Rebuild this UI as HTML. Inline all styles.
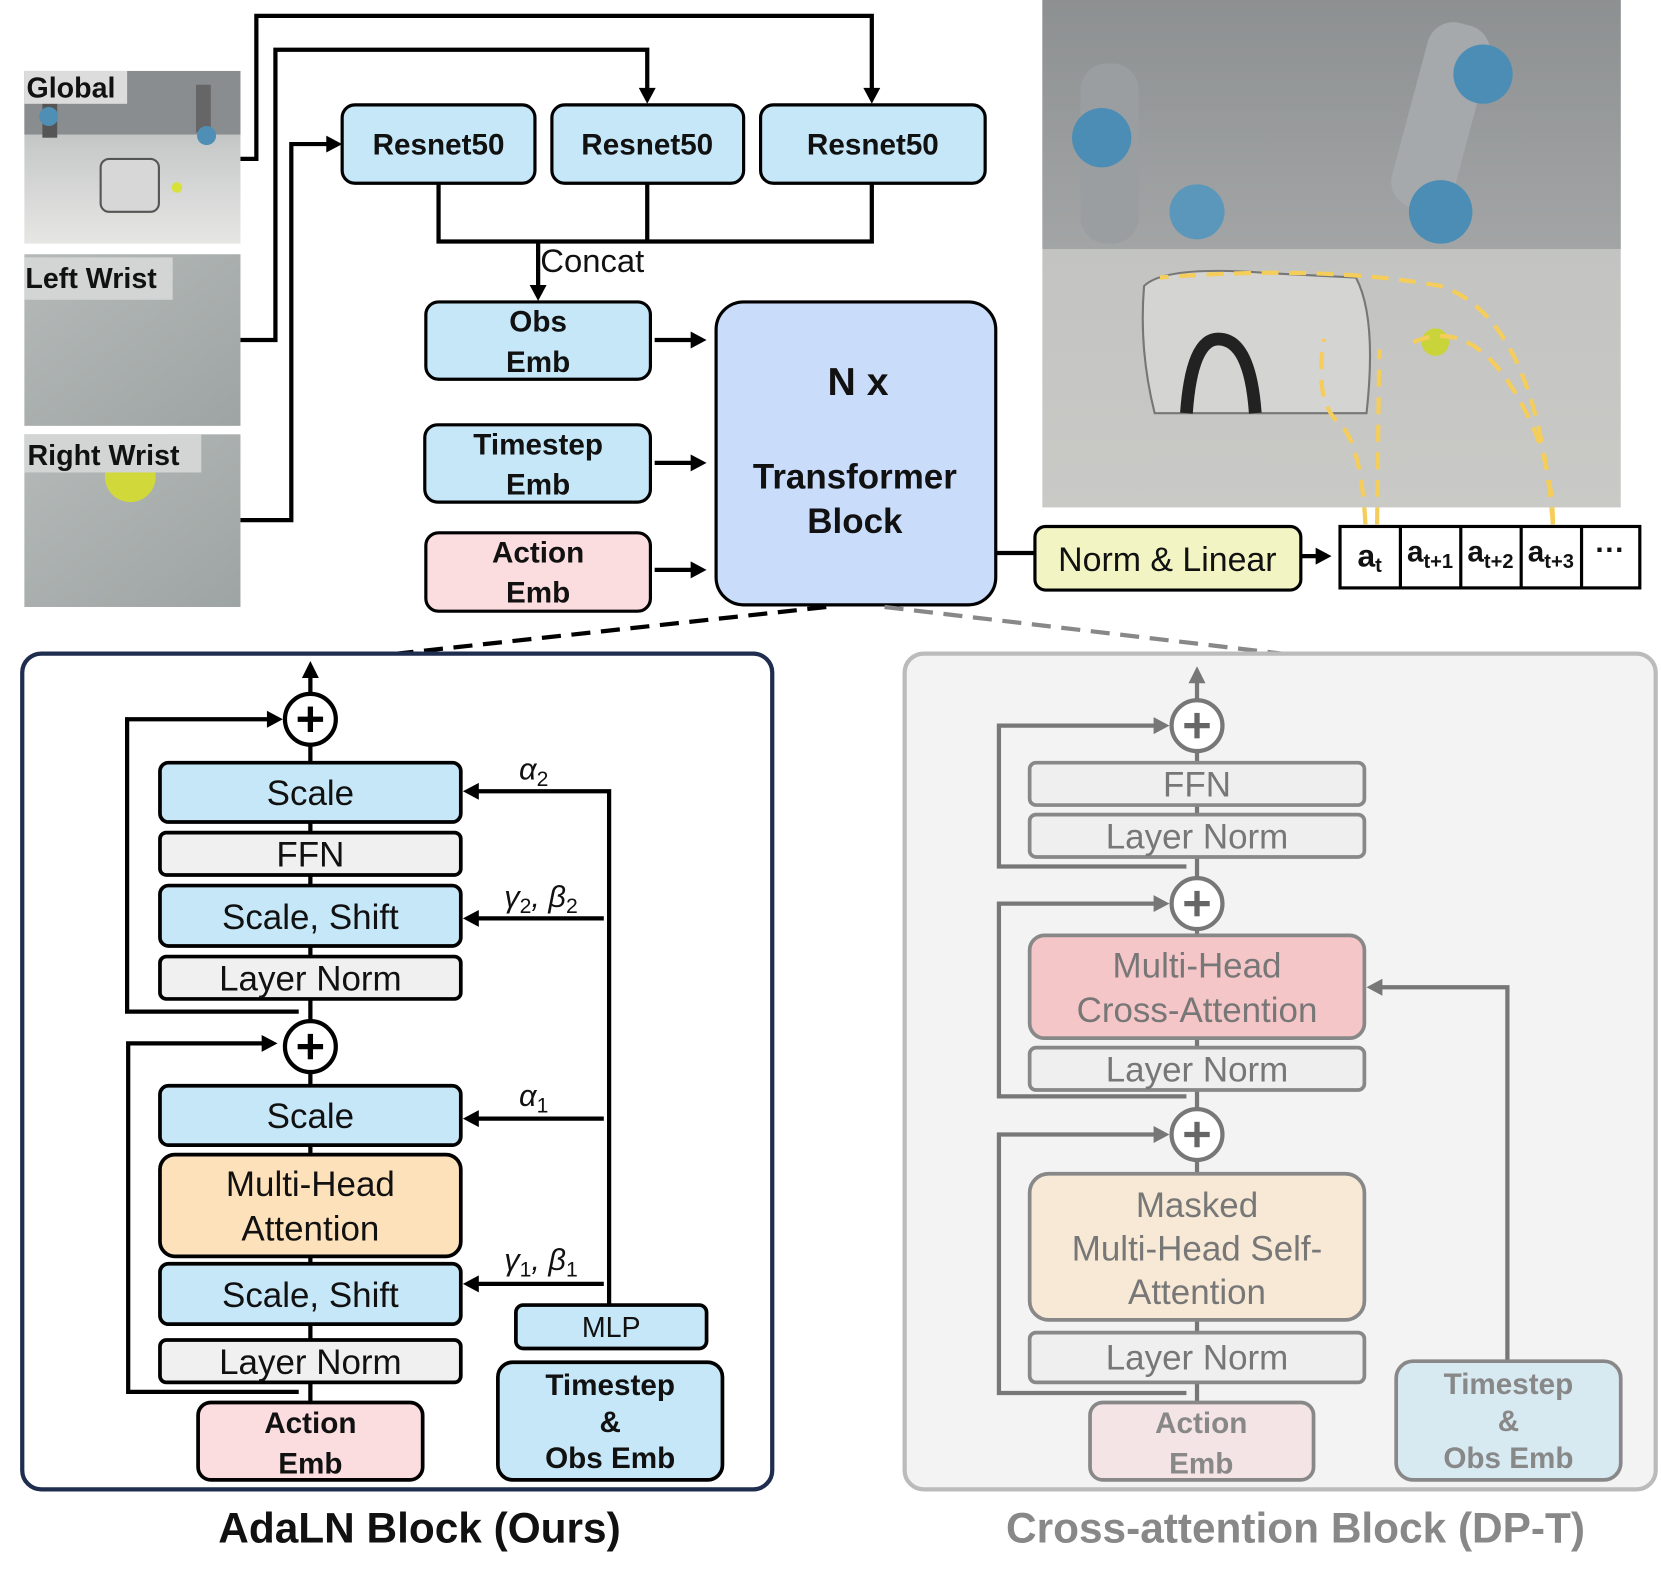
<!DOCTYPE html>
<html><head><meta charset="utf-8">
<style>
html,body{margin:0;padding:0;background:#fff;}
svg{display:block;}
text{font-family:"Liberation Sans",Arial,sans-serif;}
</style></head>
<body>
<svg width="1661" height="1579" viewBox="0 0 1568 1490.6" xmlns="http://www.w3.org/2000/svg">
<defs>
<linearGradient id="g1" x1="0" y1="0" x2="0" y2="1"><stop offset="0" stop-color="#a9abac"/><stop offset="0.45" stop-color="#c9cbcb"/><stop offset="1" stop-color="#e6e6e4"/></linearGradient>
<linearGradient id="g2" x1="0" y1="0" x2="1" y2="1"><stop offset="0" stop-color="#b5bab9"/><stop offset="1" stop-color="#9ea4a3"/></linearGradient>
<linearGradient id="g3" x1="0" y1="0" x2="0" y2="1"><stop offset="0" stop-color="#8d8f90"/><stop offset="0.5" stop-color="#c3c4c2"/><stop offset="1" stop-color="#c9c9c6"/></linearGradient>
</defs>

<!-- photos -->
<rect x="23" y="67" width="204" height="163" fill="url(#g1)"/>
<rect x="23" y="67" width="204" height="60" fill="#8a8d8f"/>
<rect x="95" y="150" width="55" height="50" rx="8" fill="#d7d7d7" stroke="#555" stroke-width="2"/>
<circle cx="167" cy="177" r="5" fill="#d6e23a"/>
<rect x="40" y="90" width="14" height="40" fill="#555"/><rect x="185" y="80" width="14" height="45" fill="#666"/>
<circle cx="46" cy="110" r="9" fill="#4f8fb5"/><circle cx="195" cy="128" r="9" fill="#4f8fb5"/>
<rect x="23" y="67" width="97" height="31" fill="#dcdcdc"/>
<text x="25" y="92" font-size="27" font-weight="bold" fill="#111">Global</text>
<rect x="23" y="240" width="204" height="162" fill="url(#g2)"/>
<rect x="23" y="243" width="140" height="40" fill="#d3d5d5"/>
<text x="24" y="272" font-size="27" font-weight="bold" fill="#111">Left Wrist</text>
<rect x="23" y="410" width="204" height="163" fill="url(#g2)"/>
<circle cx="123" cy="450" r="24" fill="#d1d83a"/>
<rect x="23" y="410" width="167" height="36" fill="#d3d5d5"/>
<text x="26" y="439" font-size="27" font-weight="bold" fill="#111">Right Wrist</text>

<rect x="984" y="0" width="546" height="479" fill="url(#g3)"/>
<rect x="984" y="0" width="546" height="235" fill="#8e9192" opacity="0.6"/>
<path d="M1080,270 Q1100,250 1200,258 L1280,262 Q1300,300 1290,390 L1090,390 Q1075,330 1080,270Z" fill="#d4d4d2" stroke="#777" stroke-width="2"/>
<path d="M1120,390 Q1125,320 1150,320 Q1180,320 1185,390" fill="none" stroke="#222" stroke-width="12"/>
<circle cx="1355" cy="323" r="13" fill="#c9d43a"/>
<rect x="1330" y="20" width="60" height="180" rx="25" fill="#a5a9ab" transform="rotate(15 1360 110)"/>
<rect x="1020" y="60" width="55" height="170" rx="25" fill="#9a9ea0"/>
<circle cx="1360" cy="200" r="30" fill="#4c8db5"/><circle cx="1040" cy="130" r="28" fill="#4c8db5"/><circle cx="1400" cy="70" r="28" fill="#4c8db5"/><circle cx="1130" cy="200" r="26" fill="#5b96bb"/>
<g fill="none" stroke="#f5cd5a" stroke-width="4" stroke-dasharray="16,10">
<path d="M1289,495 Q1285,420 1265,400 Q1240,380 1250,320"/>
<path d="M1300,495 L1302,330"/>
<path d="M1466,495 Q1466,420 1420,355 Q1380,300 1330,325"/>
<path d="M1466,495 Q1450,300 1360,270 Q1250,250 1095,262"/>
</g>

<!-- top connectors -->
<g fill="none" stroke="#000" stroke-width="4">
<polyline points="227,150 242,150 242,15 823,15 823,86"/>
<polyline points="227,321 260,321 260,47 611,47 611,86"/>
<polyline points="227,491 275,491 275,136 310,136"/>
<polyline points="414,173 414,228 823,228 823,173"/>
<line x1="611" y1="173" x2="611" y2="228"/>
<line x1="508" y1="228" x2="508" y2="272"/>
<line x1="618" y1="321" x2="655" y2="321"/>
<line x1="618" y1="437" x2="655" y2="437"/>
<line x1="618" y1="538" x2="655" y2="538"/>
<line x1="940" y1="522" x2="977" y2="522"/>
<line x1="1228" y1="525" x2="1245" y2="525"/>
</g>
<g fill="#000">
<path d="M815,83 L831,83 L823,98Z"/><path d="M603,83 L619,83 L611,98Z"/>
<path d="M308,128 L308,144 L323,136Z"/><path d="M500,269 L516,269 L508,284Z"/>
<path d="M652,313 L652,329 L667,321Z"/><path d="M652,429 L652,445 L667,437Z"/><path d="M652,530 L652,546 L667,538Z"/>
<path d="M1242,517 L1242,533 L1257,525Z"/>
</g>
<g stroke="#000" stroke-width="3" fill="#c5e7f7">
<rect x="323" y="99" width="182" height="74" rx="12"/>
<rect x="521" y="99" width="181" height="74" rx="12"/>
<rect x="718" y="99" width="212" height="74" rx="12"/>
<rect x="402" y="285" width="212" height="73" rx="12"/>
<rect x="401" y="401" width="213" height="73" rx="12"/>
<rect x="402" y="503" width="212" height="74" rx="12" fill="#fbdde0"/>
<rect x="676" y="285" width="264" height="286" rx="26" fill="#c9dcfa"/>
<rect x="977" y="497" width="251" height="60" rx="10" fill="#f2f5c3"/>
<rect x="1265" y="497" width="283" height="58" fill="#fff"/>
<line x1="1322" y1="497" x2="1322" y2="555"/><line x1="1379" y1="497" x2="1379" y2="555"/><line x1="1436" y1="497" x2="1436" y2="555"/><line x1="1493" y1="497" x2="1493" y2="555"/>
</g>
<g font-weight="bold" font-size="28" text-anchor="middle" fill="#111">
<text x="414" y="146">Resnet50</text><text x="611" y="146">Resnet50</text><text x="824" y="146">Resnet50</text>
<text x="508" y="313">Obs</text><text x="508" y="351">Emb</text>
<text x="508" y="429">Timestep</text><text x="508" y="467">Emb</text>
<text x="508" y="531">Action</text><text x="508" y="569">Emb</text>
<text x="810" y="373" font-size="37">N x</text>
<text x="807" y="461" font-size="33">Transformer</text><text x="807" y="503" font-size="33">Block</text>
<text x="1293" y="535" font-size="30">a<tspan font-size="19" dy="5">t</tspan></text>
<text x="1350" y="530" font-size="28">a<tspan font-size="19" dy="6">t+1</tspan></text>
<text x="1407" y="530" font-size="28">a<tspan font-size="19" dy="6">t+2</tspan></text>
<text x="1464" y="530" font-size="28">a<tspan font-size="19" dy="6">t+3</tspan></text>
<text x="1520" y="528" font-size="28">···</text>
</g>
<text x="510" y="257" font-size="31" fill="#111">Concat</text>
<text x="1102" y="539" font-size="32" text-anchor="middle" fill="#111">Norm &amp; Linear</text>

<!-- dashed lines -->
<line x1="780" y1="573" x2="375" y2="617" stroke="#000" stroke-width="4" stroke-dasharray="18,10"/>
<line x1="835" y1="573" x2="1210" y2="617" stroke="#888" stroke-width="4" stroke-dasharray="18,10"/>

<!-- left panel -->
<rect x="21" y="617" width="708" height="789" rx="18" fill="#fff" stroke="#1f2d4f" stroke-width="4"/>
<g fill="none" stroke="#000" stroke-width="4">
<line x1="293" y1="1324" x2="293" y2="637"/>
<polyline points="282,955 120,955 120,679 255,679"/>
<polyline points="282,1314 121,1314 121,985 250,985"/>
<polyline points="575,1232 575,747 450,747"/>
<line x1="570" y1="867" x2="450" y2="867"/>
<line x1="570" y1="1056" x2="450" y2="1056"/>
<line x1="570" y1="1212" x2="450" y2="1212"/>
</g>
<g fill="#000">
<path d="M285,640 L301,640 L293,624Z"/>
<path d="M252,671 L252,687 L267,679Z"/><path d="M247,977 L247,993 L262,985Z"/>
<path d="M452,739 L452,755 L437,747Z"/><path d="M452,859 L452,875 L437,867Z"/><path d="M452,1048 L452,1064 L437,1056Z"/><path d="M452,1204 L452,1220 L437,1212Z"/>
</g>
<g stroke="#000" stroke-width="4" fill="#fff">
<circle cx="293" cy="679" r="24"/><circle cx="293" cy="988" r="24"/>
</g>
<g stroke="#000" stroke-width="5"><line x1="281" y1="679" x2="305" y2="679"/><line x1="293" y1="667" x2="293" y2="691"/><line x1="281" y1="988" x2="305" y2="988"/><line x1="293" y1="976" x2="293" y2="1000"/></g>
<g stroke="#000" stroke-width="3.5">
<rect x="151" y="720" width="284" height="56" rx="8" fill="#c5e7f7"/>
<rect x="151" y="786" width="284" height="40" rx="6" fill="#f0f0f0"/>
<rect x="151" y="836" width="284" height="57" rx="8" fill="#c5e7f7"/>
<rect x="151" y="903" width="284" height="40" rx="6" fill="#f0f0f0"/>
<rect x="151" y="1025" width="284" height="56" rx="8" fill="#c5e7f7"/>
<rect x="151" y="1090" width="284" height="96" rx="14" fill="#fde1bb"/>
<rect x="151" y="1193" width="284" height="57" rx="8" fill="#c5e7f7"/>
<rect x="151" y="1265" width="284" height="40" rx="6" fill="#f0f0f0"/>
<rect x="187" y="1324" width="212" height="73" rx="12" fill="#fbdde0"/>
<rect x="487" y="1232" width="180" height="41" rx="7" fill="#c5e7f7"/>
<rect x="470" y="1286" width="212" height="111" rx="14" fill="#c5e7f7"/>
</g>
<g font-size="33" text-anchor="middle" fill="#111">
<text x="293" y="760">Scale</text><text x="293" y="818">FFN</text><text x="293" y="877">Scale, Shift</text><text x="293" y="935">Layer Norm</text>
<text x="293" y="1065">Scale</text><text x="293" y="1129">Multi-Head</text><text x="293" y="1171">Attention</text>
<text x="293" y="1234">Scale, Shift</text><text x="293" y="1297">Layer Norm</text>
<text x="577" y="1262" font-size="27">MLP</text>
</g>
<g font-size="28" font-weight="bold" text-anchor="middle" fill="#111">
<text x="293" y="1353">Action</text><text x="293" y="1391">Emb</text>
<text x="576" y="1317">Timestep</text><text x="576" y="1352">&amp;</text><text x="576" y="1386">Obs Emb</text>
</g>
<g font-family="Liberation Serif,serif" font-style="italic" font-size="29" fill="#111">
<text x="490" y="736">α<tspan font-size="20" dy="6" font-style="normal">2</tspan></text>
<text x="476" y="856">γ<tspan font-size="20" dy="6" font-style="normal">2</tspan><tspan dy="-6">, β</tspan><tspan font-size="20" dy="6" font-style="normal">2</tspan></text>
<text x="490" y="1044">α<tspan font-size="20" dy="6" font-style="normal">1</tspan></text>
<text x="476" y="1199">γ<tspan font-size="20" dy="6" font-style="normal">1</tspan><tspan dy="-6">, β</tspan><tspan font-size="20" dy="6" font-style="normal">1</tspan></text>
</g>

<!-- right panel -->
<rect x="854" y="617" width="709" height="789" rx="18" fill="#f3f3f3" stroke="#bbb" stroke-width="4"/>
<g fill="none" stroke="#777" stroke-width="4">
<line x1="1130" y1="1324" x2="1130" y2="643"/>
<polyline points="1120,818 943,818 943,685 1092,685"/>
<polyline points="1120,1035 943,1035 943,853 1092,853"/>
<polyline points="1120,1315 943,1315 943,1071 1092,1071"/>
<polyline points="1423,1285 1423,932 1303,932"/>
</g>
<g fill="#777">
<path d="M1122,645 L1138,645 L1130,629Z"/>
<path d="M1089,677 L1089,693 L1104,685Z"/><path d="M1089,845 L1089,861 L1104,853Z"/><path d="M1089,1063 L1089,1079 L1104,1071Z"/>
<path d="M1305,924 L1305,940 L1290,932Z"/>
</g>
<g stroke="#777" stroke-width="4" fill="#fff">
<circle cx="1130" cy="685" r="24"/><circle cx="1130" cy="853" r="24"/><circle cx="1130" cy="1071" r="24"/>
</g>
<g stroke="#666" stroke-width="5"><line x1="1118" y1="685" x2="1142" y2="685"/><line x1="1130" y1="673" x2="1130" y2="697"/><line x1="1118" y1="853" x2="1142" y2="853"/><line x1="1130" y1="841" x2="1130" y2="865"/><line x1="1118" y1="1071" x2="1142" y2="1071"/><line x1="1130" y1="1059" x2="1130" y2="1083"/></g>
<g stroke="#888" stroke-width="3.5">
<rect x="972" y="720" width="316" height="40" rx="6" fill="#efefef"/>
<rect x="972" y="769" width="316" height="40" rx="6" fill="#efefef"/>
<rect x="972" y="883" width="316" height="97" rx="14" fill="#f5c6c8"/>
<rect x="972" y="989" width="316" height="40" rx="6" fill="#efefef"/>
<rect x="972" y="1108" width="316" height="138" rx="18" fill="#f7e9d5"/>
<rect x="972" y="1258" width="316" height="47" rx="6" fill="#efefef"/>
<rect x="1029" y="1324" width="211" height="73" rx="12" fill="#f4e4e6"/>
<rect x="1318" y="1285" width="212" height="112" rx="16" fill="#d7e9f1"/>
</g>
<g font-size="33" text-anchor="middle" fill="#777">
<text x="1130" y="752">FFN</text><text x="1130" y="801">Layer Norm</text>
<text x="1130" y="923">Multi-Head</text><text x="1130" y="965">Cross-Attention</text>
<text x="1130" y="1021">Layer Norm</text>
<text x="1130" y="1149">Masked</text><text x="1130" y="1190">Multi-Head Self-</text><text x="1130" y="1231">Attention</text>
<text x="1130" y="1293">Layer Norm</text>
</g>
<g font-size="28" font-weight="bold" text-anchor="middle" fill="#888">
<text x="1134" y="1353">Action</text><text x="1134" y="1391">Emb</text>
<text x="1424" y="1316">Timestep</text><text x="1424" y="1351">&amp;</text><text x="1424" y="1386">Obs Emb</text>
</g>

<!-- titles -->
<text x="396" y="1456" font-size="40" font-weight="bold" text-anchor="middle" fill="#111">AdaLN Block (Ours)</text>
<text x="1223" y="1456" font-size="40" font-weight="bold" text-anchor="middle" fill="#888">Cross-attention Block (DP-T)</text>
</svg>
</body></html>
